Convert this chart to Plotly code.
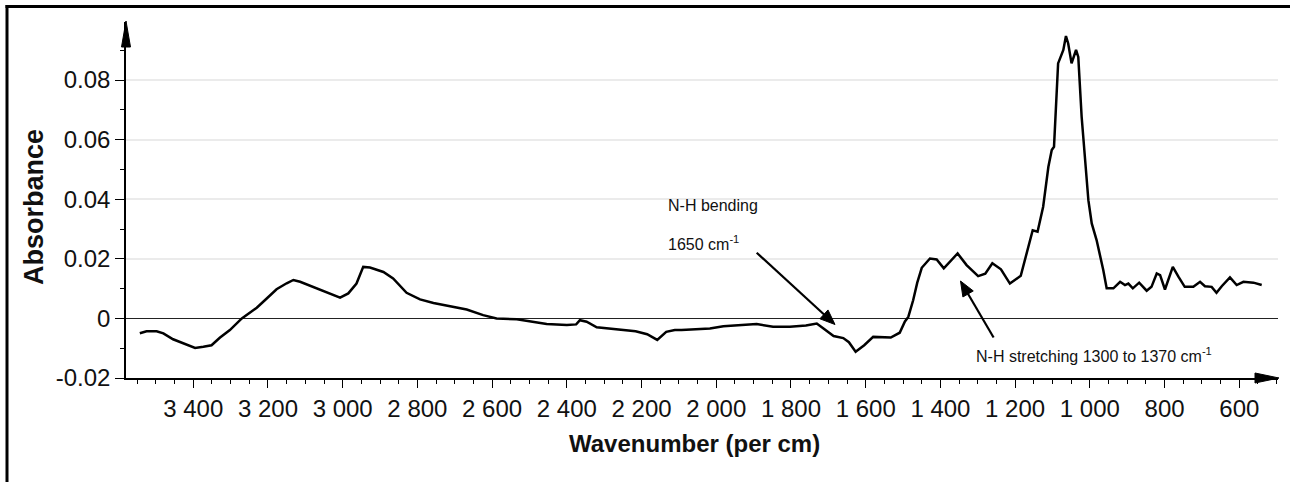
import math
import plotly.graph_objects as go

# ---------------- data ----------------
wavenumber = [3543, 3525, 3498, 3480, 3454, 3427, 3395, 3373, 3351, 3329, 3302, 3270,
              3230, 3204, 3177, 3150, 3132, 3114, 3079, 3034, 3007, 2985, 2963, 2945,
              2927, 2891, 2865, 2829, 2793, 2757, 2713, 2668, 2624, 2588, 2534, 2490,
              2454, 2400, 2375, 2365, 2355, 2347, 2320, 2267, 2216, 2185, 2158, 2134,
              2111, 2093, 2052, 2017, 1981, 1934, 1892, 1848, 1803, 1760, 1731, 1713,
              1686, 1660, 1645, 1627, 1604, 1580, 1533, 1509, 1495, 1486, 1473, 1462,
              1450, 1428, 1410, 1391, 1354, 1330, 1299, 1280, 1261, 1238, 1214, 1185,
              1169, 1153, 1140, 1125, 1111, 1102, 1096, 1085, 1071, 1064, 1058, 1049,
              1037, 1031, 1022, 1013, 1004, 995, 982, 964, 955, 937, 919, 906,
              897, 885, 868, 848, 835, 821, 812, 799, 778, 763, 746, 723,
              705, 692, 674, 661, 647, 625, 607, 589, 562, 540]
absorbance = [-0.0050, -0.0043, -0.0043, -0.0050, -0.0070, -0.0084, -0.0099, -0.0095, -0.0090, -0.0065, -0.0039, 0.0000,
              0.0036, 0.0066, 0.0098, 0.0118, 0.0129, 0.0123, 0.0106, 0.0082, 0.0070, 0.0084, 0.0117, 0.0173,
              0.0171, 0.0156, 0.0134, 0.0086, 0.0064, 0.0052, 0.0041, 0.0030, 0.0011, 0.0000, -0.0003, -0.0011,
              -0.0019, -0.0022, -0.0020, -0.0006, -0.0008, -0.0011, -0.0030, -0.0037, -0.0043, -0.0053, -0.0072, -0.0045,
              -0.0039, -0.0039, -0.0037, -0.0034, -0.0026, -0.0022, -0.0019, -0.0028, -0.0028, -0.0024, -0.0017, -0.0034,
              -0.0059, -0.0066, -0.0080, -0.0112, -0.0090, -0.0062, -0.0064, -0.0048, -0.0010, 0.0005, 0.0061, 0.0120,
              0.0170, 0.0201, 0.0198, 0.0168, 0.0218, 0.0179, 0.0142, 0.0150, 0.0185, 0.0165, 0.0117, 0.0143,
              0.0218, 0.0296, 0.0291, 0.0375, 0.0509, 0.0565, 0.0576, 0.0856, 0.0901, 0.0948, 0.0923, 0.0856,
              0.0901, 0.0878, 0.0677, 0.0531, 0.0397, 0.0319, 0.0263, 0.0162, 0.0101, 0.0101, 0.0123, 0.0112,
              0.0117, 0.0101, 0.0120, 0.0093, 0.0106, 0.0151, 0.0145, 0.0097, 0.0173, 0.0140, 0.0106, 0.0106,
              0.0123, 0.0108, 0.0106, 0.0086, 0.0108, 0.0138, 0.0112, 0.0123, 0.0120, 0.0112]

x_tick_values = [3400, 3200, 3000, 2800, 2600, 2400, 2200, 2000, 1800, 1600, 1400, 1200, 1000, 800, 600]
x_tick_labels = ["3 400", "3 200", "3 000", "2 800", "2 600", "2 400", "2 200", "2 000",
                 "1 800", "1 600", "1 400", "1 200", "1 000", "800", "600"]
x_minor_values = list(range(3550, 499, -50))
y_tick_values = [-0.02, 0, 0.02, 0.04, 0.06, 0.08]
y_tick_labels = ["-0.02", "0", "0.02", "0.04", "0.06", "0.08"]
y_minor_values = [-0.01, 0.01, 0.03, 0.05, 0.07, 0.09]

x_range = [3580, 496.4]
y_range = [-0.02, 0.0995]

# ---------------- layout geometry (pixels) ----------------
W, H = 1290, 482
L, R, T, B = 126, 1278, 22, 378
PW, PH = R - L, B - T


def px(x):
    return (x - L) / PW


def py(y):
    return (B - y) / PH


def arrow_shapes(tail, tip, head_len=15, half_w=6, width=2.2):
    """Straight arrow (line + filled head) in pixel geometry, returned as paper shapes."""
    dx, dy = tip[0] - tail[0], tip[1] - tail[1]
    n = math.hypot(dx, dy)
    ux, uy = dx / n, dy / n
    bx, by = tip[0] - head_len * ux, tip[1] - head_len * uy
    nx, ny = -uy, ux
    p1 = (bx + half_w * nx, by + half_w * ny)
    p2 = (bx - half_w * nx, by - half_w * ny)
    line = dict(type="line", xref="paper", yref="paper",
                x0=px(tail[0]), y0=py(tail[1]), x1=px(bx + 2 * ux), y1=py(by + 2 * uy),
                line=dict(color="black", width=width))
    head = dict(type="path", xref="paper", yref="paper",
                path=(f"M {px(tip[0])},{py(tip[1])} L {px(p1[0])},{py(p1[1])} "
                      f"L {px(p2[0])},{py(p2[1])} Z"),
                fillcolor="black", line=dict(color="black", width=1))
    return [line, head]


SANS = "Liberation Sans, Arial, sans-serif"

fig = go.Figure()
fig.add_trace(go.Scatter(x=wavenumber, y=absorbance, mode="lines",
                         line=dict(color="black", width=2.5), hoverinfo="skip",
                         showlegend=False))

shapes = [
    # white box behind the "N-H bending" label (hides grid lines)
    dict(type="rect", xref="paper", yref="paper", x0=px(648), x1=px(823), y0=py(268), y1=py(185),
         fillcolor="white", line=dict(width=0), layer="between"),
    # y axis arrow head
    dict(type="path", xref="paper", yref="paper",
         path=f"M {px(126)},{py(21)} L {px(121.5)},{py(47)} L {px(130.5)},{py(47)} Z",
         fillcolor="black", line=dict(color="black", width=1)),
    # x axis arrow head
    dict(type="path", xref="paper", yref="paper",
         path=f"M {px(1279)},{py(378)} L {px(1255)},{py(373)} L {px(1255)},{py(383)} Z",
         fillcolor="black", line=dict(color="black", width=1)),
    # outer frame (left and top edges)
    dict(type="line", xref="paper", yref="paper", x0=px(7), x1=px(7), y0=py(5), y1=py(490),
         line=dict(color="black", width=3)),
    dict(type="line", xref="paper", yref="paper", x0=px(5.5), x1=px(1300), y0=py(6.5), y1=py(6.5),
         line=dict(color="black", width=3)),
]
shapes += arrow_shapes((756.7, 252.7), (835, 324.5))
shapes += arrow_shapes((993.6, 337.5), (960.5, 281))

annotations = [
    dict(text="<b>Absorbance</b>", xref="paper", yref="paper", x=px(34), y=py(207),
         textangle=-90, showarrow=False, xanchor="center", yanchor="middle",
         font=dict(family=SANS, size=27, color="#111")),
    dict(text="<b>Wavenumber (per cm)</b>", xref="paper", yref="paper", x=px(694), y=py(443),
         showarrow=False, xanchor="center", yanchor="middle",
         font=dict(family=SANS, size=24, color="#111")),
    dict(text="N-H bending", xref="paper", yref="paper", x=px(666), y=py(205),
         showarrow=False, xanchor="left", yanchor="middle",
         font=dict(family=SANS, size=16, color="#111")),
    dict(text="1650 cm<sup>-1</sup>", xref="paper", yref="paper", x=px(666), y=py(243),
         showarrow=False, xanchor="left", yanchor="middle",
         font=dict(family=SANS, size=16, color="#111")),
    dict(text="N-H stretching 1300 to 1370 cm<sup>-1</sup>", xref="paper", yref="paper",
         x=px(974), y=py(355), showarrow=False, xanchor="left", yanchor="middle",
         font=dict(family=SANS, size=16, color="#111")),
]

fig.update_layout(
    width=W, height=H, autosize=False,
    margin=dict(l=L, r=W - R, t=T, b=H - B, pad=0),
    paper_bgcolor="white", plot_bgcolor="white",
    shapes=shapes, annotations=annotations,
    showlegend=False,
)

fig.update_xaxes(
    range=x_range, tickmode="array", tickvals=x_tick_values, ticktext=x_tick_labels,
    ticks="outside", ticklen=8, tickwidth=1.3, tickcolor="black",
    showline=True, linecolor="black", linewidth=1.5,
    showgrid=False, zeroline=False, automargin=False,
    tickfont=dict(family=SANS, size=24, color="#111"),
    minor=dict(tickmode="array", tickvals=x_minor_values, ticks="outside", ticklen=4,
               tickwidth=1.3, tickcolor="black", showgrid=False),
)
fig.update_yaxes(
    range=y_range, tickmode="array", tickvals=y_tick_values, ticktext=y_tick_labels,
    ticks="outside", ticklen=9, tickwidth=1.3, tickcolor="black",
    showline=True, linecolor="black", linewidth=1.5,
    showgrid=True, gridcolor="#ebebeb", gridwidth=1.5,
    zeroline=True, zerolinecolor="#222", zerolinewidth=1.3, automargin=False,
    tickfont=dict(family=SANS, size=24, color="#111"),
    minor=dict(tickmode="array", tickvals=y_minor_values, ticks="outside", ticklen=4,
               tickwidth=1.3, tickcolor="black", showgrid=False),
)

fig.write_html("out.html")
